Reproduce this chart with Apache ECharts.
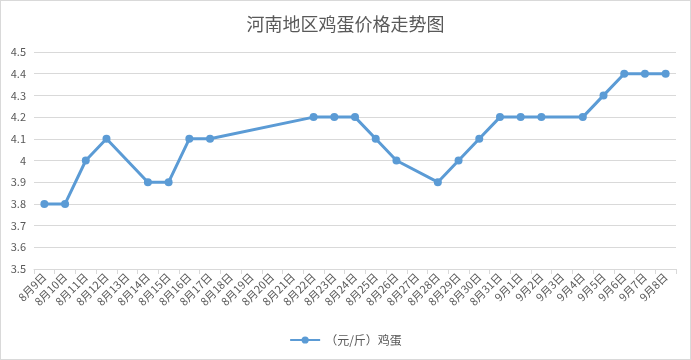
<!DOCTYPE html>
<html><head><meta charset="utf-8">
<script src="https://cdn.jsdelivr.net/npm/echarts@6/dist/echarts.min.js"></script>
<style>html,body{margin:0;padding:0;background:#fff}#c{width:691px;height:360px;box-sizing:border-box;border:1px solid #d9d9d9}</style>
</head><body><div id="c"></div>
<script>
const categories = ['8月9日','8月10日','8月11日','8月12日','8月13日','8月14日','8月15日','8月16日','8月17日','8月18日','8月19日','8月20日','8月21日','8月22日','8月23日','8月24日','8月25日','8月26日','8月27日','8月28日','8月29日','8月30日','8月31日','9月1日','9月2日','9月3日','9月4日','9月5日','9月6日','9月7日','9月8日'];
const eggPrices = [3.8,3.8,4.0,4.1,null,3.9,3.9,4.1,4.1,null,null,null,null,4.2,4.2,4.2,4.1,4.0,null,3.9,4.0,4.1,4.2,4.2,4.2,null,4.2,4.3,4.4,4.4,4.4];
const seriesName = '（元/斤）鸡蛋';
const chart = echarts.init(document.getElementById('c'));
const font = '"Microsoft YaHei","Noto Sans CJK SC",sans-serif';
chart.setOption({
  animation:false,
  title:{text:'河南地区鸡蛋价格走势图',left:'center',top:9,textStyle:{fontFamily:font,fontSize:18,fontWeight:'normal',color:'#595959'}},
  legend:{bottom:8,left:'center',itemWidth:30,itemHeight:9,itemGap:10,textStyle:{fontFamily:font,fontSize:12,color:'#595959'},data:[seriesName]},
  grid:{left:33,right:14,top:51,bottom:90},
  xAxis:{type:'category',data:categories,boundaryGap:true,
    axisLine:{lineStyle:{color:'#d9d9d9'}},
    axisTick:{show:true,lineStyle:{color:'#d9d9d9'},length:5},
    axisLabel:{interval:0,rotate:45,color:'#595959',fontSize:11,fontFamily:font,margin:6}},
  yAxis:{type:'value',min:3.5,max:4.5,interval:0.1,
    axisLine:{show:false},axisTick:{show:false},
    splitLine:{lineStyle:{color:'#d9d9d9'}},
    axisLabel:{color:'#595959',fontSize:11,fontFamily:font,formatter:v=>String(Math.round(v*10)/10)}},
  series:[{name:seriesName,type:'line',data:eggPrices,connectNulls:true,
    symbol:'circle',symbolSize:8,
    lineStyle:{color:'#5B9BD5',width:3},itemStyle:{color:'#5B9BD5'}}]
});
</script></body></html>
